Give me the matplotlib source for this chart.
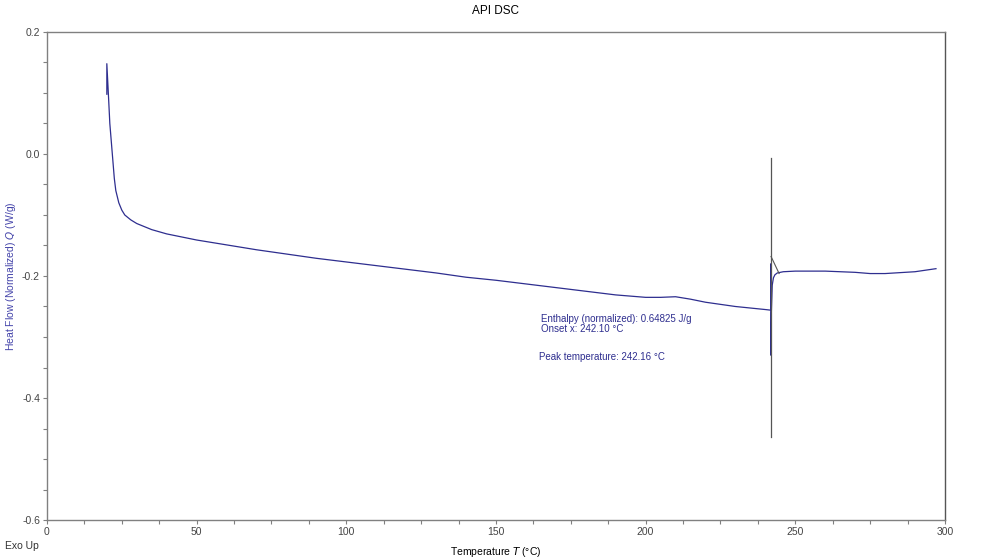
import matplotlib
matplotlib.use("Agg")
import matplotlib.pyplot as plt
from matplotlib.ticker import MultipleLocator

plt.rcParams['font.family'] = ['Liberation Sans', 'DejaVu Sans']

# DSC curve
temp = [20.0, 20.0, 20.5, 21.0, 21.5, 22.0, 22.5, 23.0, 24.0, 25.0, 26.0, 28.0,
        30.0, 35.0, 40.0, 50.0, 60.0, 70.0, 80.0, 90.0, 100.0, 110.0, 120.0,
        130.0, 140.0, 150.0, 160.0, 170.0, 180.0, 190.0, 200.0, 205.0, 210.0,
        215.0, 220.0, 230.0, 240.0, 241.8, 241.85, 241.9, 242.0, 242.3, 242.7,
        243.2, 244.0, 246.0, 250.0, 260.0, 270.0, 275.0, 280.0, 290.0, 297.0]
heat_flow = [0.098, 0.148, 0.100, 0.050, 0.020, -0.010, -0.040, -0.060, -0.080,
             -0.092, -0.100, -0.108, -0.114, -0.124, -0.131, -0.141, -0.149,
             -0.157, -0.164, -0.171, -0.177, -0.183, -0.189, -0.195, -0.202,
             -0.207, -0.213, -0.219, -0.225, -0.231, -0.235, -0.235, -0.234,
             -0.238, -0.243, -0.250, -0.255, -0.256, -0.180, -0.330, -0.260,
             -0.215, -0.203, -0.198, -0.195, -0.193, -0.192, -0.192, -0.194,
             -0.196, -0.196, -0.193, -0.188]

# peak marker and integration baseline
peak_temp = 241.9
peak_range = [-0.006, -0.464]
base_temp = [241.9, 244.6]
base_flow = [-0.168, -0.196]

enthalpy_text = "Enthalpy (normalized): 0.64825 J/g\nOnset x: 242.10 \u00b0C"
peak_text = "Peak temperature: 242.16 \u00b0C"

blue = '#2e2e8f'
grey = '#808080'

fig = plt.figure(figsize=(9.95, 5.6), dpi=100)
ax = fig.add_axes([0.0472, 0.0714, 0.9025, 0.8715])

ax.plot(temp, heat_flow, color=blue, lw=0.9)
ax.plot([peak_temp, peak_temp], peak_range, color='#555555', lw=0.9)
ax.plot(base_temp, base_flow, color='#555555', lw=0.8)

ax.text(165, -0.262, enthalpy_text, color=blue, fontsize=7, va='top', linespacing=1.0)
ax.text(164.5, -0.324, peak_text, color=blue, fontsize=7, va='top')

ax.set_xlim(0, 300)
ax.set_ylim(-0.6, 0.2)
ax.xaxis.set_major_locator(MultipleLocator(50))
ax.xaxis.set_minor_locator(MultipleLocator(12.5))
ax.yaxis.set_major_locator(MultipleLocator(0.2))
ax.yaxis.set_minor_locator(MultipleLocator(0.05))
ax.yaxis.set_major_formatter(plt.FuncFormatter(lambda v, p: f"{v:.1f}"))

ax.tick_params(which='both', direction='out', length=3, width=0.8, color=grey,
               labelsize=7.5, labelcolor='#444444', pad=2)
for s in ax.spines.values():
    s.set_color(grey)
    s.set_linewidth(1.0)
ax.spines['right'].set_color('#555555')

ax.set_title("API DSC", fontsize=8.5, pad=13)
ax.set_xlabel("Temperature $T$ (\u00b0C)", fontsize=7.5, labelpad=6)
fig.text(0.011, 0.507, "Heat Flow (Normalized) $Q$ (W/g)", fontsize=7.5, color='#4444aa',
         rotation=90, ha='center', va='center')
fig.text(0.005, 0.02, "Exo Up", fontsize=7.5, color='#333333')

fig.savefig("out.png", dpi=100)
